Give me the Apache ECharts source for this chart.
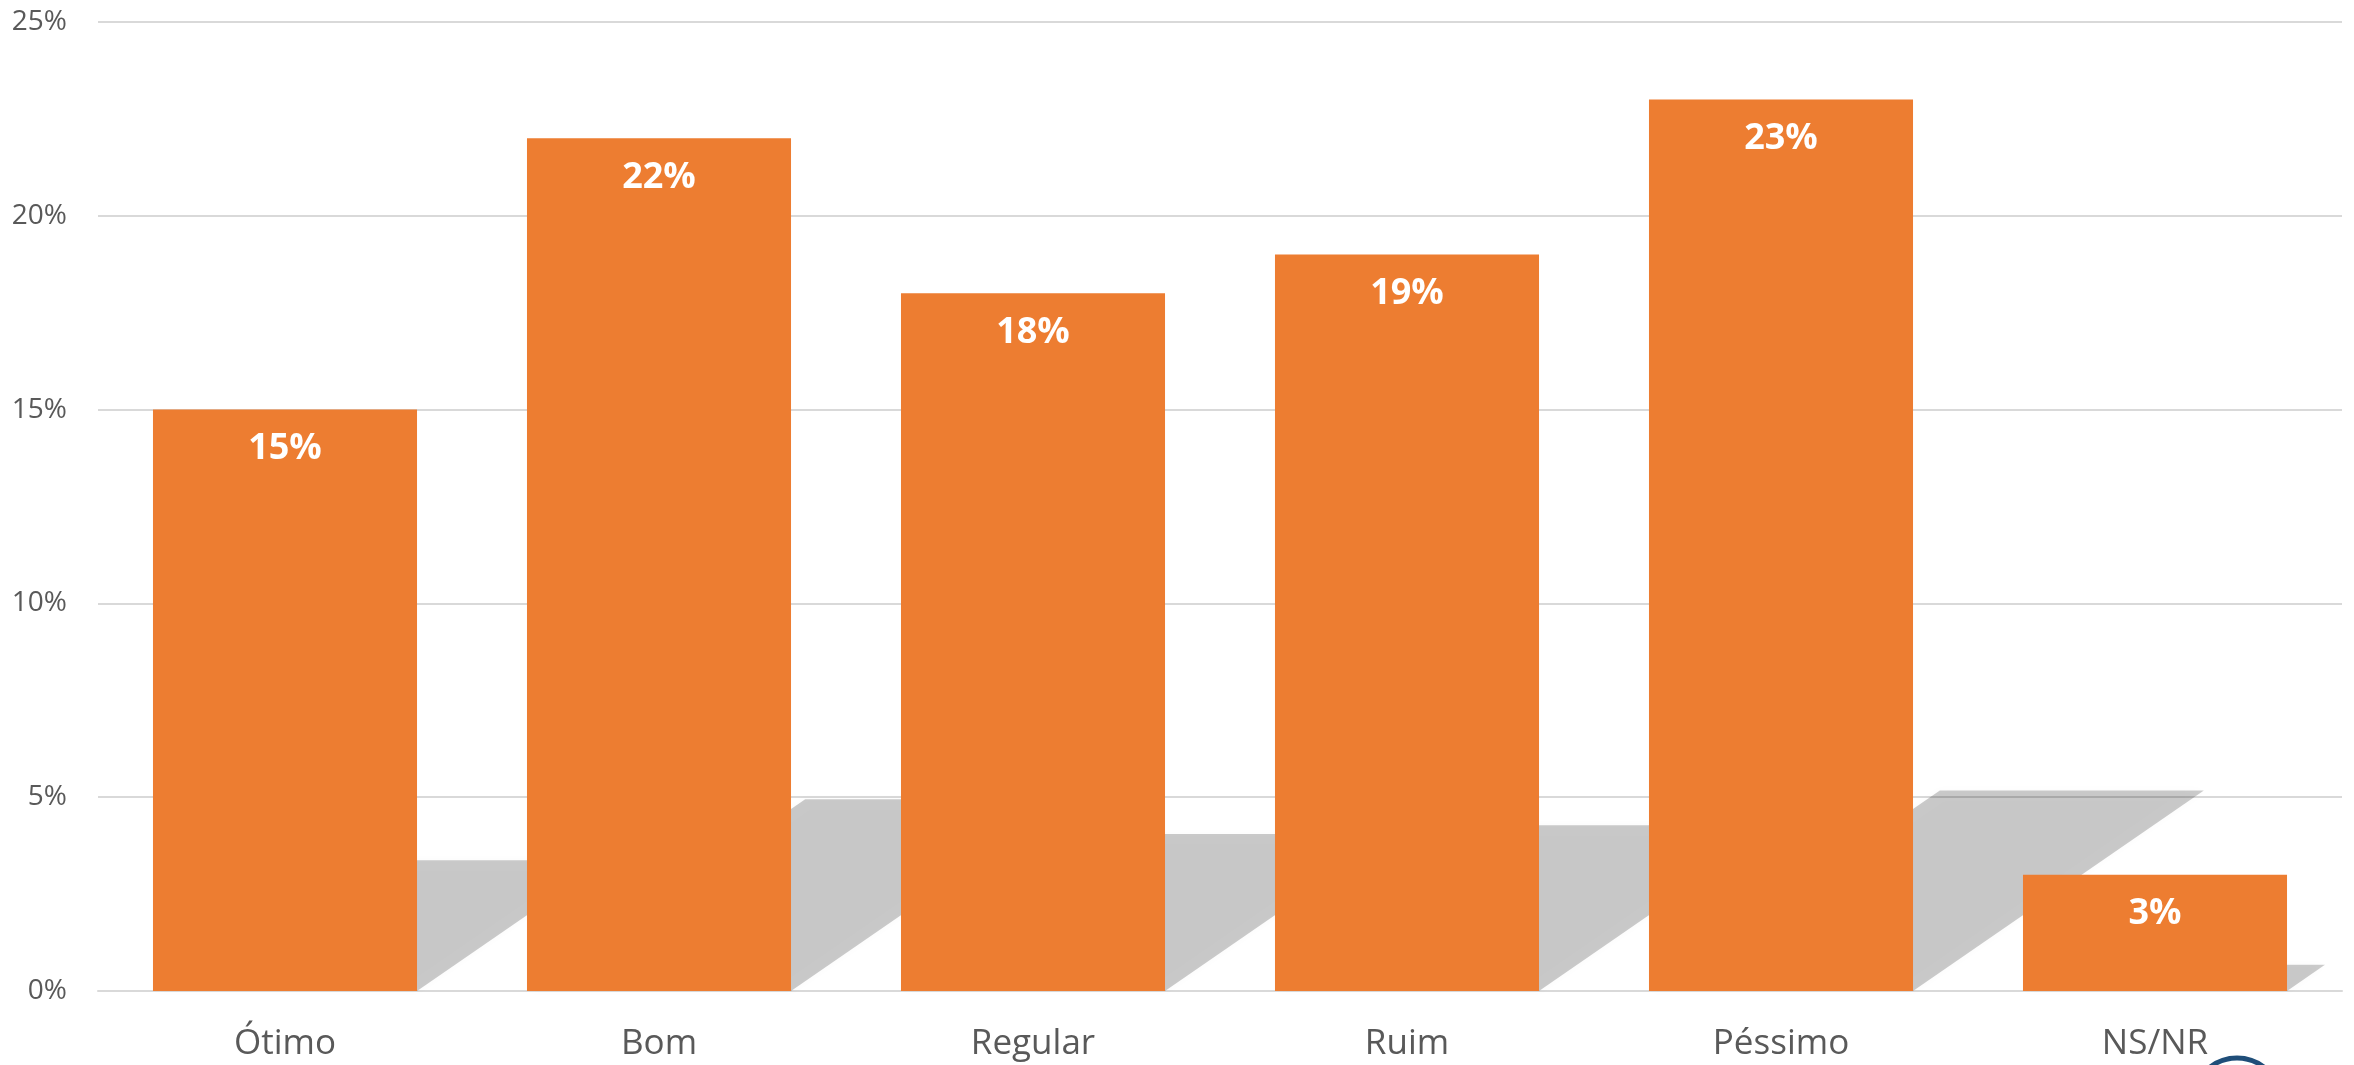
<!DOCTYPE html>
<html>
<head>
<meta charset="utf-8">
<title>Avaliação</title>
<script src="https://cdn.jsdelivr.net/npm/echarts@6/dist/echarts.min.js"></script>
<style>
html, body { margin: 0; padding: 0; background: #ffffff; }
#chart { width: 2354px; height: 1065px; }
</style>
</head>
<body>
<div id="chart"></div>
<script>
// dados
var categorias = ['Ótimo', 'Bom', 'Regular', 'Ruim', 'Péssimo', 'NS/NR'];
var percentuais = [15, 22, 18, 19, 23, 3];
var ticksY = [0, 5, 10, 15, 20, 25];

var laranja = '#ED7D31';
var cinzaTexto = '#595959';
var larguraBarra = 0.706; // fração da categoria

var chartDom = document.getElementById('chart');
var myChart = echarts.init(chartDom);

// sombra em perspectiva atrás de cada barra
function sombra(params, api) {
    var idx = api.value(0);
    var val = api.value(1);
    var base = api.coord([idx, 0]);
    var topo = api.coord([idx, val]);
    var meia = api.size([1, 0])[0] * larguraBarra / 2;
    var h = (base[1] - topo[1]) * 0.225;
    var desloc = h * 1.45;
    return {
        type: 'polygon',
        shape: {
            points: [
                [base[0] - meia, base[1]],
                [base[0] + meia, base[1]],
                [base[0] + meia + desloc, base[1] - h],
                [base[0] - meia + desloc, base[1] - h]
            ]
        },
        style: {
            fill: 'rgba(0,0,0,0.2)',
            shadowBlur: 8,
            shadowColor: 'rgba(0,0,0,0.12)'
        }
    };
}

var option = {
    animation: false,
    backgroundColor: '#ffffff',
    grid: {
        left: 98,
        right: 12,
        top: 22,
        bottom: 74
    },
    xAxis: {
        type: 'category',
        data: categorias,
        axisLine: { lineStyle: { color: '#d9d9d9', width: 2 } },
        axisTick: { show: false },
        axisLabel: {
            color: cinzaTexto,
            fontFamily: 'Open Sans',
            fontSize: 35,
            margin: 36
        }
    },
    yAxis: {
        type: 'value',
        min: ticksY[0],
        max: ticksY[ticksY.length - 1],
        interval: 5,
        axisLine: { show: false },
        axisTick: { show: false },
        splitLine: { lineStyle: { color: '#d9d9d9', width: 2 } },
        axisLabel: {
            color: cinzaTexto,
            fontFamily: 'Open Sans',
            fontSize: 28,
            margin: 31,
            formatter: '{value}%'
        }
    },
    series: [
        {
            type: 'custom',
            renderItem: sombra,
            clip: false,
            z: 1,
            silent: true,
            encode: { x: 0, y: 1 },
            data: percentuais.map(function (v, i) { return [i, v]; })
        },
        {
            type: 'bar',
            z: 2,
            data: percentuais,
            barWidth: (larguraBarra * 100) + '%',
            itemStyle: { color: laranja },
            label: {
                show: true,
                position: 'insideTop',
                distance: 21,
                formatter: '{c}%',
                color: '#ffffff',
                fontFamily: 'Open Sans',
                fontWeight: 'bold',
                fontSize: 36
            }
        }
    ],
    graphic: [
        {
            type: 'circle',
            shape: { cx: 2237, cy: 1102, r: 44 },
            style: { fill: 'none', stroke: '#1F4E79', lineWidth: 5 }
        }
    ]
};

myChart.setOption(option);
window.addEventListener('resize', function () {
    myChart.resize();
});
</script>
</body>
</html>
